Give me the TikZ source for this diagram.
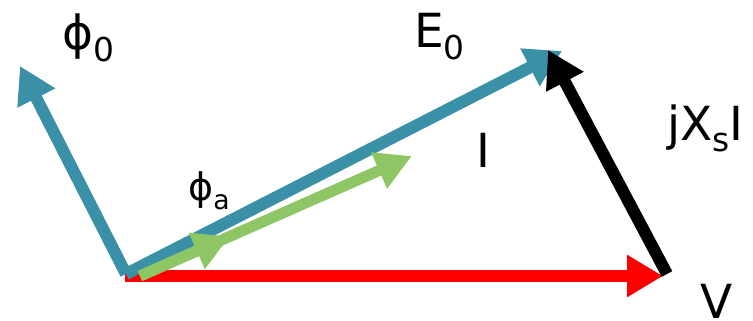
\documentclass[tikz,border=0pt]{standalone}
\usepackage{fontspec}
\setmainfont{DejaVu Sans}
\usetikzlibrary{arrows.meta,calc}
\definecolor{phteal}{RGB}{58,145,167}
\definecolor{phgreen}{RGB}{143,198,101}
\definecolor{phred}{RGB}{255,0,0}
\newcommand\lowidx[1]{\raisebox{-0.24em}{\scalebox{0.7}{#1}}}
\tikzset{
  phasor/.style={line width=12pt, -{Triangle[length=36pt,width=40pt]}},
  thinphasor/.style={line width=11pt, -{Triangle[length=36pt,width=37pt]}},
  lbl/.style={inner sep=0pt, anchor=base west, font=\fontsize{47}{50}\selectfont},
  smalllbl/.style={lbl, font=\fontsize{38}{40}\selectfont}
}

\begin{document}
\begin{tikzpicture}[x=1pt,y=-1pt]
  \useasboundingbox (0,0) rectangle (753,321);
  % phasor end points
  \coordinate (O) at (125,276);
  \coordinate (Vtip) at (663,276);
  \coordinate (Otl) at (126,274);
  \coordinate (Phitip) at (20,66);
  \coordinate (Etip) at (562,51);
  \coordinate (Vtail) at (667,274);
  \coordinate (Xtip) at (548,50);
  \coordinate (G0) at (140,276);
  \coordinate (Itip) at (412,156);
  \draw[phasor, phred] (O) -- (Vtip);
  \draw[phasor, phteal] (Otl) -- (Phitip);
  \draw[phasor, phteal] (Otl) -- (Etip);
  \draw[phasor, black] (Vtail) -- (Xtip);
  \draw[thinphasor, phgreen] (G0) -- (Itip);
  \draw[thinphasor, phgreen] (G0) -- ($(G0)!0.33!(Itip)$);
  % labels
  \node[lbl] (phi0) at (62,50) {ϕ\lowidx{0}};
  \node[lbl] (e0) at (414,48) {E\lowidx{0}};
  \node[lbl] (cur) at (476,167) {I};
  \node[lbl] (jxs) at (667,140) {jX\lowidx{s}I};
  \node[lbl] (volt) at (700,318) {V};
  \node[smalllbl] (phia) at (188,200) {ϕ\lowidx{a}};
\end{tikzpicture}
\end{document}
